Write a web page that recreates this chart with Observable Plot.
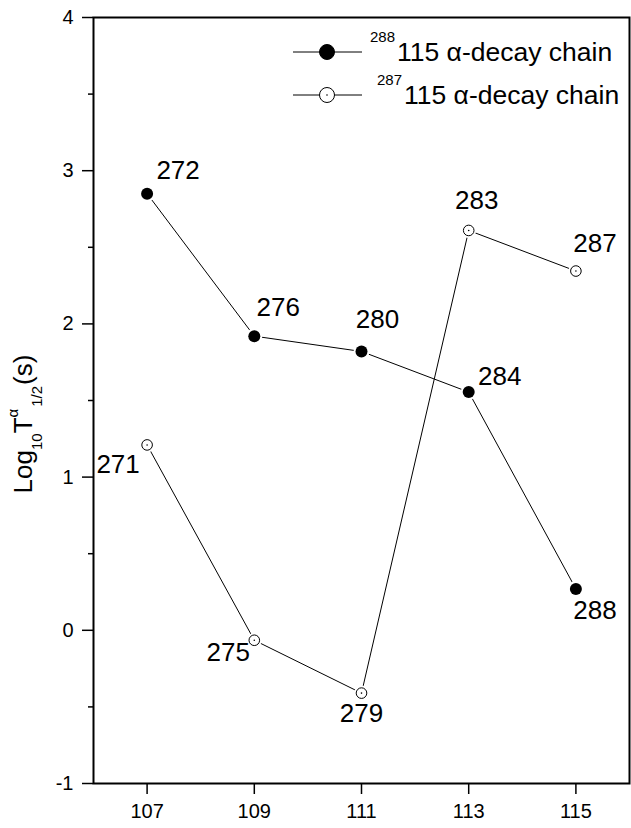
<!DOCTYPE html>
<html><head><meta charset="utf-8">
<script src="https://cdn.jsdelivr.net/npm/d3@7"></script>
<script src="https://cdn.jsdelivr.net/npm/@observablehq/plot@0.6"></script>
<style>
body{margin:0;background:#fff}
svg{font-family:"Liberation Sans",Arial,sans-serif}
</style>
</head><body><div id="chart"></div>
<script>
// Data
const Z = [107, 109, 111, 113, 115];
const chain288 = [2.85, 1.92, 1.82, 1.555, 0.27];
const labels288 = ["272", "276", "280", "284", "288"];
const chain287 = [1.21, -0.065, -0.41, 2.61, 2.345];
const labels287 = ["271", "275", "279", "283", "287"];
const yTicks = [-1, 0, 1, 2, 3, 4];
const yMinorTicks = [-0.5, 0.5, 1.5, 2.5, 3.5];
const xTicks = [107, 109, 111, 113, 115];
const legendNames = [["288", "115 α-decay chain"], ["287", "115 α-decay chain"]];

const d288 = Z.map((z, i) => ({z, v: chain288[i], label: labels288[i]}));
const d287 = Z.map((z, i) => ({z, v: chain287[i], label: labels287[i]}));

// label placement (pixel offsets)
const labelOffsets = {
  "272": [31, -23], "276": [24, -28], "280": [16, -32], "284": [31, -15], "288": [19, 22],
  "271": [-29, 20], "275": [-26, 12], "279": [0, 21], "283": [8, -30], "287": [19, -27]
};
const labelMarks = [...d288, ...d287].map(d => Plot.text([d], {
  x: "z", y: "v", text: "label", dx: labelOffsets[d.label][0], dy: labelOffsets[d.label][1],
  fontSize: 26, fill: "black", lineAnchor: "middle", textAnchor: "middle"
}));

const plot = Plot.plot({
  width: 631, height: 828,
  marginLeft: 93, marginRight: 2, marginTop: 17, marginBottom: 45,
  x: {domain: [106, 116]},
  y: {domain: [-1, 4]},
  style: {fontFamily: '"Liberation Sans", Arial, sans-serif', color: "black", background: "white"},
  marks: [
    Plot.axisY({ticks: yTicks, tickSize: 11, tickPadding: 9, fontSize: 20, strokeWidth: 1.5, label: null, tickFormat: d => String(d)}),
    Plot.axisY({ticks: yMinorTicks, tickSize: 5, text: null, strokeWidth: 1.5, label: null}),
    Plot.axisX({ticks: xTicks, tickSize: 11, tickPadding: 9, fontSize: 20, strokeWidth: 1.5, label: null, tickFormat: d => String(d)}),
    Plot.line(d288, {x: "z", y: "v", stroke: "black", strokeWidth: 1}),
    Plot.line(d287, {x: "z", y: "v", stroke: "black", strokeWidth: 1}),
    Plot.dot(d288, {x: "z", y: "v", r: 8, fill: "white", stroke: null}),
    Plot.dot(d287, {x: "z", y: "v", r: 7.5, fill: "white", stroke: null}),
    Plot.dot(d288, {x: "z", y: "v", r: 6, fill: "black", stroke: null}),
    Plot.dot(d287, {x: "z", y: "v", r: 5.3, fill: "white", stroke: "black", strokeWidth: 1}),
    Plot.dot(d287, {x: "z", y: "v", r: 0.8, fill: "black", stroke: null}),
    ...labelMarks,
    Plot.frame({stroke: "black", strokeWidth: 2})
  ]
});
document.getElementById("chart").appendChild(plot);

const svg = d3.select(plot);

// Y axis title
const yt = svg.append("text")
  .attr("transform", "translate(32,424) rotate(-90)")
  .attr("text-anchor", "middle")
  .attr("font-size", 26)
  .attr("fill", "black");
yt.append("tspan").text("Log");
yt.append("tspan").attr("font-size", 15).attr("dy", 10).text("10");
yt.append("tspan").attr("dy", -10).text("T");
yt.append("tspan").attr("font-size", 15).attr("dy", -14).text("α");
yt.append("tspan").attr("font-size", 15).attr("dy", 24).attr("dx", 2).text("1/2");
yt.append("tspan").attr("dy", -10).attr("dx", 1).text("(s)");

// Legend
const leg = svg.append("g").attr("text-anchor", "start");
const rows = [{y: 52, filled: true, supX: 370, mainX: 397}, {y: 95, filled: false, supX: 377, mainX: 404}];
rows.forEach((r, i) => {
  leg.append("line").attr("x1", 293).attr("x2", 362).attr("y1", r.y).attr("y2", r.y)
    .attr("stroke", "black").attr("stroke-width", 1);
  leg.append("circle").attr("cx", 327).attr("cy", r.y).attr("r", 7.5)
    .attr("fill", r.filled ? "black" : "white").attr("stroke", "black").attr("stroke-width", 1);
  if (!r.filled) leg.append("circle").attr("cx", 327).attr("cy", r.y).attr("r", 0.8).attr("fill", "black");
  leg.append("text").attr("text-anchor", "start").attr("x", r.supX).attr("y", r.y - 10).attr("font-size", 15).attr("fill", "black").text(legendNames[i][0]);
  leg.append("text").attr("text-anchor", "start").attr("x", r.mainX).attr("y", r.y + 9).attr("font-size", 26.5).attr("fill", "black").text(legendNames[i][1]);
});
</script>
</body></html>
